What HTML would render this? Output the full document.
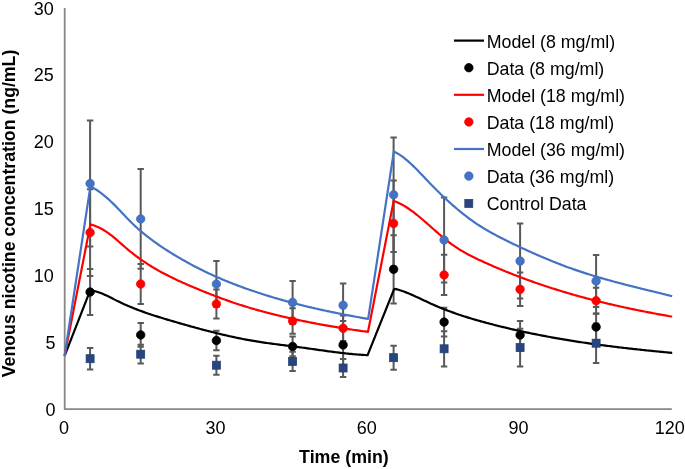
<!DOCTYPE html>
<html><head><meta charset="utf-8"><style>
html,body{margin:0;padding:0;background:#fff;}
svg{display:block;will-change:transform;}
text{font-family:"Liberation Sans",sans-serif;fill:#000;}
</style></head><body>
<svg width="685" height="469" viewBox="0 0 685 469">
<rect width="685" height="469" fill="#fff"/>
<g font-size="18"><text x="55.4" y="415.60" text-anchor="end">0</text><text x="55.4" y="348.76" text-anchor="end">5</text><text x="53.7" y="281.93" text-anchor="end">10</text><text x="53.7" y="215.09" text-anchor="end">15</text><text x="53.7" y="148.26" text-anchor="end">20</text><text x="53.7" y="81.42" text-anchor="end">25</text><text x="53.7" y="14.59" text-anchor="end">30</text><text x="64.1" y="434.3" text-anchor="middle">0</text><text x="215.4" y="434.3" text-anchor="middle">30</text><text x="366.8" y="434.3" text-anchor="middle">60</text><text x="518.4" y="434.3" text-anchor="middle">90</text><text x="669.7" y="434.3" text-anchor="middle">120</text></g>
<g stroke="#878787" stroke-width="1.8" fill="none">
<path d="M64.7,8V409.1H671.8"/>
</g>
<g stroke="#595959" stroke-width="2" fill="none">
<path d="M90.10,347.90V369.50M86.90,347.90H93.30M86.90,369.50H93.30"/>
<path d="M140.70,344.80V363.60M137.50,344.80H143.90M137.50,363.60H143.90"/>
<path d="M216.40,355.70V374.70M213.20,355.70H219.60M213.20,374.70H219.60"/>
<path d="M292.60,351.70V371.10M289.40,351.70H295.80M289.40,371.10H295.80"/>
<path d="M343.10,359.10V376.90M339.90,359.10H346.30M339.90,376.90H346.30"/>
<path d="M393.60,345.70V369.70M390.40,345.70H396.80M390.40,369.70H396.80"/>
<path d="M444.10,331.20V366.40M440.90,331.20H447.30M440.90,366.40H447.30"/>
<path d="M520.10,328.80V366.40M516.90,328.80H523.30M516.90,366.40H523.30"/>
<path d="M596.10,323.40V363.00M592.90,323.40H599.30M592.90,363.00H599.30"/>
<path d="M90.10,269.10V314.90M86.90,269.10H93.30M86.90,314.90H93.30"/>
<path d="M140.70,323.00V346.80M137.50,323.00H143.90M137.50,346.80H143.90"/>
<path d="M216.40,330.70V350.30M213.20,330.70H219.60M213.20,350.30H219.60"/>
<path d="M292.60,336.50V356.30M289.40,336.50H295.80M289.40,356.30H295.80"/>
<path d="M343.10,320.90V368.90M339.90,320.90H346.30M339.90,368.90H346.30"/>
<path d="M393.60,235.20V303.40M390.40,235.20H396.80M390.40,303.40H396.80"/>
<path d="M444.10,307.70V336.50M440.90,307.70H447.30M440.90,336.50H447.30"/>
<path d="M520.10,321.00V349.00M516.90,321.00H523.30M516.90,349.00H523.30"/>
<path d="M596.10,313.70V340.10M592.90,313.70H599.30M592.90,340.10H599.30"/>
<path d="M90.10,189.20V276.00M86.90,189.20H93.30M86.90,276.00H93.30"/>
<path d="M140.70,264.10V303.90M137.50,264.10H143.90M137.50,303.90H143.90"/>
<path d="M216.40,289.40V318.40M213.20,289.40H219.60M213.20,318.40H219.60"/>
<path d="M292.60,308.20V333.80M289.40,308.20H295.80M289.40,333.80H295.80"/>
<path d="M343.10,315.60V341.00M339.90,315.60H346.30M339.90,341.00H346.30"/>
<path d="M393.60,180.40V266.40M390.40,180.40H396.80M390.40,266.40H396.80"/>
<path d="M444.10,254.80V295.00M440.90,254.80H447.30M440.90,295.00H447.30"/>
<path d="M520.10,272.50V306.10M516.90,272.50H523.30M516.90,306.10H523.30"/>
<path d="M596.10,287.80V313.60M592.90,287.80H599.30M592.90,313.60H599.30"/>
<path d="M90.10,120.60V246.60M86.90,120.60H93.30M86.90,246.60H93.30"/>
<path d="M140.70,169.00V268.80M137.50,169.00H143.90M137.50,268.80H143.90"/>
<path d="M216.40,261.00V307.00M213.20,261.00H219.60M213.20,307.00H219.60"/>
<path d="M292.60,280.90V323.90M289.40,280.90H295.80M289.40,323.90H295.80"/>
<path d="M343.10,283.60V327.00M339.90,283.60H346.30M339.90,327.00H346.30"/>
<path d="M393.60,137.60V252.00M390.40,137.60H396.80M390.40,252.00H396.80"/>
<path d="M444.10,197.60V282.40M440.90,197.60H447.30M440.90,282.40H447.30"/>
<path d="M520.10,223.60V298.60M516.90,223.60H523.30M516.90,298.60H523.30"/>
<path d="M596.10,254.90V307.10M592.90,254.90H599.30M592.90,307.10H599.30"/>
</g>
<g fill="none" stroke-width="2.2" stroke-linejoin="miter">
<path d="M64.60,355.80 L90.10,290.70 L91.60,290.72 L93.10,290.91 L94.60,291.18 L96.10,291.53 L97.60,291.95 L99.10,292.44 L100.60,292.98 L102.10,293.57 L103.60,294.21 L105.10,294.89 L106.60,295.59 L108.10,296.32 L109.60,297.07 L111.10,297.83 L112.60,298.60 L114.10,299.36 L115.60,300.12 L117.10,300.87 L118.60,301.60 L120.10,302.32 L121.60,303.02 L123.10,303.71 L124.60,304.39 L126.10,305.05 L127.60,305.70 L129.10,306.34 L130.60,306.97 L132.10,307.58 L133.60,308.19 L135.10,308.78 L136.60,309.37 L138.10,309.94 L139.60,310.50 L141.10,311.06 L142.60,311.60 L144.10,312.14 L145.60,312.67 L147.10,313.19 L148.60,313.70 L150.10,314.21 L151.60,314.71 L153.10,315.20 L154.60,315.68 L156.10,316.17 L157.60,316.64 L159.10,317.11 L160.60,317.57 L162.10,318.04 L163.60,318.49 L165.10,318.94 L166.60,319.39 L168.10,319.84 L169.60,320.28 L171.10,320.72 L172.60,321.16 L174.10,321.60 L175.60,322.04 L177.10,322.47 L178.60,322.91 L180.10,323.34 L181.60,323.77 L183.10,324.20 L184.60,324.63 L186.10,325.05 L187.60,325.47 L189.10,325.90 L190.60,326.32 L192.10,326.73 L193.60,327.15 L195.10,327.56 L196.60,327.97 L198.10,328.38 L199.60,328.78 L201.10,329.19 L202.60,329.58 L204.10,329.98 L205.60,330.38 L207.10,330.77 L208.60,331.15 L210.10,331.54 L211.60,331.92 L213.10,332.30 L214.60,332.67 L216.10,333.04 L217.60,333.41 L219.10,333.77 L220.60,334.13 L222.10,334.49 L223.60,334.84 L225.10,335.19 L226.60,335.54 L228.10,335.87 L229.60,336.21 L231.10,336.54 L232.60,336.87 L234.10,337.19 L235.60,337.51 L237.10,337.82 L238.60,338.13 L240.10,338.43 L241.60,338.73 L243.10,339.03 L244.60,339.31 L246.10,339.60 L247.60,339.87 L249.10,340.15 L250.60,340.41 L252.10,340.68 L253.60,340.93 L255.10,341.18 L256.60,341.43 L258.10,341.67 L259.60,341.90 L261.10,342.13 L262.60,342.36 L264.10,342.58 L265.60,342.79 L267.10,343.01 L268.60,343.22 L270.10,343.43 L271.60,343.63 L273.10,343.83 L274.60,344.03 L276.10,344.23 L277.60,344.42 L279.10,344.62 L280.60,344.81 L282.10,345.00 L283.60,345.19 L285.10,345.38 L286.60,345.57 L288.10,345.76 L289.60,345.95 L291.10,346.14 L292.60,346.33 L294.10,346.52 L295.60,346.72 L297.10,346.91 L298.60,347.11 L300.10,347.31 L301.60,347.51 L303.10,347.72 L304.60,347.92 L306.10,348.13 L307.60,348.34 L309.10,348.55 L310.60,348.76 L312.10,348.97 L313.60,349.19 L315.10,349.40 L316.60,349.61 L318.10,349.82 L319.60,350.04 L321.10,350.25 L322.60,350.46 L324.10,350.67 L325.60,350.88 L327.10,351.08 L328.60,351.29 L330.10,351.49 L331.60,351.69 L333.10,351.89 L334.60,352.08 L336.10,352.27 L337.60,352.46 L339.10,352.64 L340.60,352.82 L342.10,353.00 L343.60,353.17 L345.10,353.34 L346.60,353.50 L348.10,353.66 L349.60,353.82 L351.10,353.96 L352.60,354.10 L354.10,354.24 L355.60,354.37 L357.10,354.49 L358.60,354.61 L360.10,354.72 L361.60,354.82 L363.10,354.92 L364.60,355.01 L366.10,355.08 L367.60,355.20 L394.00,289.40 L395.50,288.96 L397.00,289.35 L398.50,289.77 L400.00,290.23 L401.50,290.72 L403.00,291.25 L404.50,291.79 L406.00,292.37 L407.50,292.97 L409.00,293.58 L410.50,294.22 L412.00,294.87 L413.50,295.54 L415.00,296.22 L416.50,296.90 L418.00,297.60 L419.50,298.30 L421.00,299.00 L422.50,299.70 L424.00,300.41 L425.50,301.11 L427.00,301.82 L428.50,302.51 L430.00,303.20 L431.50,303.88 L433.00,304.56 L434.50,305.22 L436.00,305.87 L437.50,306.51 L439.00,307.14 L440.50,307.76 L442.00,308.36 L443.50,308.96 L445.00,309.55 L446.50,310.13 L448.00,310.71 L449.50,311.27 L451.00,311.82 L452.50,312.37 L454.00,312.90 L455.50,313.43 L457.00,313.95 L458.50,314.46 L460.00,314.97 L461.50,315.47 L463.00,315.96 L464.50,316.44 L466.00,316.92 L467.50,317.39 L469.00,317.85 L470.50,318.31 L472.00,318.76 L473.50,319.21 L475.00,319.65 L476.50,320.08 L478.00,320.51 L479.50,320.93 L481.00,321.35 L482.50,321.77 L484.00,322.18 L485.50,322.59 L487.00,322.99 L488.50,323.39 L490.00,323.78 L491.50,324.17 L493.00,324.56 L494.50,324.95 L496.00,325.33 L497.50,325.71 L499.00,326.08 L500.50,326.45 L502.00,326.82 L503.50,327.19 L505.00,327.55 L506.50,327.91 L508.00,328.27 L509.50,328.62 L511.00,328.97 L512.50,329.31 L514.00,329.66 L515.50,330.00 L517.00,330.34 L518.50,330.67 L520.00,331.00 L521.50,331.33 L523.00,331.65 L524.50,331.98 L526.00,332.30 L527.50,332.61 L529.00,332.93 L530.50,333.24 L532.00,333.55 L533.50,333.85 L535.00,334.15 L536.50,334.45 L538.00,334.75 L539.50,335.04 L541.00,335.34 L542.50,335.63 L544.00,335.91 L545.50,336.20 L547.00,336.48 L548.50,336.75 L550.00,337.03 L551.50,337.30 L553.00,337.57 L554.50,337.84 L556.00,338.11 L557.50,338.37 L559.00,338.63 L560.50,338.89 L562.00,339.15 L563.50,339.40 L565.00,339.65 L566.50,339.90 L568.00,340.15 L569.50,340.39 L571.00,340.64 L572.50,340.88 L574.00,341.11 L575.50,341.35 L577.00,341.58 L578.50,341.81 L580.00,342.04 L581.50,342.27 L583.00,342.49 L584.50,342.72 L586.00,342.94 L587.50,343.16 L589.00,343.37 L590.50,343.59 L592.00,343.80 L593.50,344.01 L595.00,344.22 L596.50,344.43 L598.00,344.63 L599.50,344.84 L601.00,345.04 L602.50,345.24 L604.00,345.43 L605.50,345.63 L607.00,345.82 L608.50,346.02 L610.00,346.21 L611.50,346.40 L613.00,346.58 L614.50,346.77 L616.00,346.95 L617.50,347.14 L619.00,347.32 L620.50,347.50 L622.00,347.67 L623.50,347.85 L625.00,348.02 L626.50,348.20 L628.00,348.37 L629.50,348.54 L631.00,348.71 L632.50,348.88 L634.00,349.04 L635.50,349.21 L637.00,349.37 L638.50,349.53 L640.00,349.69 L641.50,349.85 L643.00,350.01 L644.50,350.17 L646.00,350.32 L647.50,350.48 L649.00,350.63 L650.50,350.78 L652.00,350.94 L653.50,351.09 L655.00,351.24 L656.50,351.38 L658.00,351.53 L659.50,351.68 L661.00,351.82 L662.50,351.96 L664.00,352.11 L665.50,352.25 L667.00,352.39 L668.50,352.53 L670.00,352.67 L671.50,352.81 L672.20,352.70" stroke="#000"/>
<path d="M64.60,355.80 L90.40,224.40 L91.90,224.86 L93.40,225.31 L94.90,225.82 L96.40,226.40 L97.90,227.04 L99.40,227.74 L100.90,228.50 L102.40,229.33 L103.90,230.21 L105.40,231.15 L106.90,232.15 L108.40,233.20 L109.90,234.31 L111.40,235.46 L112.90,236.66 L114.40,237.89 L115.90,239.16 L117.40,240.45 L118.90,241.75 L120.40,243.06 L121.90,244.38 L123.40,245.70 L124.90,247.00 L126.40,248.29 L127.90,249.55 L129.40,250.80 L130.90,252.01 L132.40,253.20 L133.90,254.37 L135.40,255.52 L136.90,256.64 L138.40,257.74 L139.90,258.82 L141.40,259.87 L142.90,260.91 L144.40,261.93 L145.90,262.92 L147.40,263.90 L148.90,264.86 L150.40,265.80 L151.90,266.72 L153.40,267.63 L154.90,268.52 L156.40,269.39 L157.90,270.25 L159.40,271.09 L160.90,271.92 L162.40,272.73 L163.90,273.53 L165.40,274.32 L166.90,275.09 L168.40,275.85 L169.90,276.61 L171.40,277.35 L172.90,278.07 L174.40,278.79 L175.90,279.50 L177.40,280.20 L178.90,280.90 L180.40,281.58 L181.90,282.26 L183.40,282.93 L184.90,283.59 L186.40,284.24 L187.90,284.90 L189.40,285.54 L190.90,286.18 L192.40,286.82 L193.90,287.46 L195.40,288.09 L196.90,288.71 L198.40,289.34 L199.90,289.96 L201.40,290.57 L202.90,291.18 L204.40,291.79 L205.90,292.39 L207.40,292.99 L208.90,293.58 L210.40,294.17 L211.90,294.76 L213.40,295.34 L214.90,295.92 L216.40,296.49 L217.90,297.05 L219.40,297.61 L220.90,298.17 L222.40,298.72 L223.90,299.27 L225.40,299.81 L226.90,300.35 L228.40,300.88 L229.90,301.41 L231.40,301.93 L232.90,302.44 L234.40,302.95 L235.90,303.46 L237.40,303.95 L238.90,304.45 L240.40,304.93 L241.90,305.41 L243.40,305.89 L244.90,306.36 L246.40,306.82 L247.90,307.28 L249.40,307.73 L250.90,308.18 L252.40,308.62 L253.90,309.05 L255.40,309.48 L256.90,309.91 L258.40,310.33 L259.90,310.74 L261.40,311.15 L262.90,311.56 L264.40,311.96 L265.90,312.36 L267.40,312.75 L268.90,313.14 L270.40,313.52 L271.90,313.90 L273.40,314.28 L274.90,314.65 L276.40,315.02 L277.90,315.38 L279.40,315.74 L280.90,316.10 L282.40,316.46 L283.90,316.81 L285.40,317.15 L286.90,317.50 L288.40,317.84 L289.90,318.18 L291.40,318.51 L292.90,318.84 L294.40,319.17 L295.90,319.50 L297.40,319.82 L298.90,320.14 L300.40,320.46 L301.90,320.77 L303.40,321.08 L304.90,321.39 L306.40,321.69 L307.90,321.99 L309.40,322.29 L310.90,322.58 L312.40,322.88 L313.90,323.17 L315.40,323.45 L316.90,323.74 L318.40,324.02 L319.90,324.30 L321.40,324.57 L322.90,324.84 L324.40,325.11 L325.90,325.38 L327.40,325.65 L328.90,325.91 L330.40,326.17 L331.90,326.42 L333.40,326.68 L334.90,326.93 L336.40,327.18 L337.90,327.43 L339.40,327.67 L340.90,327.91 L342.40,328.15 L343.90,328.39 L345.40,328.62 L346.90,328.85 L348.40,329.08 L349.90,329.31 L351.40,329.53 L352.90,329.76 L354.40,329.98 L355.90,330.19 L357.40,330.41 L358.90,330.62 L360.40,330.83 L361.90,331.04 L363.40,331.25 L364.90,331.45 L366.40,331.65 L367.90,331.85 L368.00,331.70 L393.70,200.90 L395.20,201.46 L396.70,202.06 L398.20,202.71 L399.70,203.43 L401.20,204.19 L402.70,205.01 L404.20,205.88 L405.70,206.80 L407.20,207.76 L408.70,208.76 L410.20,209.80 L411.70,210.88 L413.20,211.99 L414.70,213.14 L416.20,214.31 L417.70,215.51 L419.20,216.74 L420.70,217.98 L422.20,219.25 L423.70,220.53 L425.20,221.83 L426.70,223.14 L428.20,224.46 L429.70,225.79 L431.20,227.12 L432.70,228.45 L434.20,229.78 L435.70,231.10 L437.20,232.42 L438.70,233.73 L440.20,235.02 L441.70,236.30 L443.20,237.56 L444.70,238.80 L446.20,240.02 L447.70,241.21 L449.20,242.37 L450.70,243.50 L452.20,244.60 L453.70,245.66 L455.20,246.68 L456.70,247.68 L458.20,248.65 L459.70,249.59 L461.20,250.51 L462.70,251.40 L464.20,252.26 L465.70,253.10 L467.20,253.93 L468.70,254.73 L470.20,255.51 L471.70,256.28 L473.20,257.04 L474.70,257.77 L476.20,258.50 L477.70,259.22 L479.20,259.92 L480.70,260.62 L482.20,261.31 L483.70,261.99 L485.20,262.67 L486.70,263.35 L488.20,264.02 L489.70,264.68 L491.20,265.34 L492.70,266.00 L494.20,266.65 L495.70,267.29 L497.20,267.93 L498.70,268.57 L500.20,269.20 L501.70,269.82 L503.20,270.44 L504.70,271.06 L506.20,271.67 L507.70,272.28 L509.20,272.88 L510.70,273.48 L512.20,274.07 L513.70,274.66 L515.20,275.24 L516.70,275.82 L518.20,276.40 L519.70,276.97 L521.20,277.53 L522.70,278.09 L524.20,278.65 L525.70,279.20 L527.20,279.75 L528.70,280.30 L530.20,280.84 L531.70,281.37 L533.20,281.90 L534.70,282.43 L536.20,282.95 L537.70,283.47 L539.20,283.99 L540.70,284.50 L542.20,285.01 L543.70,285.51 L545.20,286.01 L546.70,286.50 L548.20,286.99 L549.70,287.48 L551.20,287.96 L552.70,288.44 L554.20,288.92 L555.70,289.39 L557.20,289.86 L558.70,290.32 L560.20,290.78 L561.70,291.24 L563.20,291.69 L564.70,292.14 L566.20,292.59 L567.70,293.03 L569.20,293.47 L570.70,293.90 L572.20,294.33 L573.70,294.76 L575.20,295.19 L576.70,295.61 L578.20,296.03 L579.70,296.44 L581.20,296.85 L582.70,297.26 L584.20,297.67 L585.70,298.07 L587.20,298.47 L588.70,298.86 L590.20,299.25 L591.70,299.64 L593.20,300.03 L594.70,300.41 L596.20,300.79 L597.70,301.17 L599.20,301.54 L600.70,301.91 L602.20,302.28 L603.70,302.64 L605.20,303.00 L606.70,303.36 L608.20,303.72 L609.70,304.07 L611.20,304.42 L612.70,304.77 L614.20,305.12 L615.70,305.46 L617.20,305.80 L618.70,306.14 L620.20,306.47 L621.70,306.80 L623.20,307.13 L624.70,307.46 L626.20,307.78 L627.70,308.11 L629.20,308.43 L630.70,308.74 L632.20,309.06 L633.70,309.37 L635.20,309.68 L636.70,309.99 L638.20,310.29 L639.70,310.60 L641.20,310.90 L642.70,311.20 L644.20,311.49 L645.70,311.79 L647.20,312.08 L648.70,312.37 L650.20,312.66 L651.70,312.95 L653.20,313.23 L654.70,313.51 L656.20,313.79 L657.70,314.07 L659.20,314.35 L660.70,314.62 L662.20,314.89 L663.70,315.17 L665.20,315.44 L666.70,315.70 L668.20,315.97 L669.70,316.23 L671.20,316.50 L672.20,316.50" stroke="#FF0000"/>
<path d="M64.60,355.80 L90.40,186.40 L91.90,187.12 L93.40,187.94 L94.90,188.82 L96.40,189.76 L97.90,190.76 L99.40,191.81 L100.90,192.92 L102.40,194.08 L103.90,195.29 L105.40,196.54 L106.90,197.83 L108.40,199.17 L109.90,200.55 L111.40,201.96 L112.90,203.40 L114.40,204.88 L115.90,206.38 L117.40,207.91 L118.90,209.47 L120.40,211.05 L121.90,212.65 L123.40,214.25 L124.90,215.86 L126.40,217.45 L127.90,219.02 L129.40,220.56 L130.90,222.07 L132.40,223.54 L133.90,224.97 L135.40,226.37 L136.90,227.74 L138.40,229.08 L139.90,230.38 L141.40,231.66 L142.90,232.92 L144.40,234.15 L145.90,235.35 L147.40,236.53 L148.90,237.69 L150.40,238.83 L151.90,239.95 L153.40,241.05 L154.90,242.14 L156.40,243.21 L157.90,244.26 L159.40,245.30 L160.90,246.33 L162.40,247.34 L163.90,248.33 L165.40,249.32 L166.90,250.29 L168.40,251.25 L169.90,252.19 L171.40,253.13 L172.90,254.05 L174.40,254.96 L175.90,255.87 L177.40,256.76 L178.90,257.64 L180.40,258.52 L181.90,259.38 L183.40,260.23 L184.90,261.08 L186.40,261.91 L187.90,262.74 L189.40,263.56 L190.90,264.37 L192.40,265.16 L193.90,265.95 L195.40,266.74 L196.90,267.51 L198.40,268.27 L199.90,269.03 L201.40,269.77 L202.90,270.51 L204.40,271.24 L205.90,271.96 L207.40,272.68 L208.90,273.38 L210.40,274.08 L211.90,274.77 L213.40,275.45 L214.90,276.13 L216.40,276.80 L217.90,277.46 L219.40,278.11 L220.90,278.75 L222.40,279.39 L223.90,280.02 L225.40,280.65 L226.90,281.26 L228.40,281.88 L229.90,282.48 L231.40,283.08 L232.90,283.67 L234.40,284.25 L235.90,284.83 L237.40,285.40 L238.90,285.97 L240.40,286.53 L241.90,287.08 L243.40,287.63 L244.90,288.17 L246.40,288.71 L247.90,289.24 L249.40,289.76 L250.90,290.28 L252.40,290.80 L253.90,291.31 L255.40,291.81 L256.90,292.31 L258.40,292.80 L259.90,293.29 L261.40,293.78 L262.90,294.26 L264.40,294.73 L265.90,295.20 L267.40,295.67 L268.90,296.13 L270.40,296.59 L271.90,297.04 L273.40,297.49 L274.90,297.94 L276.40,298.38 L277.90,298.81 L279.40,299.24 L280.90,299.67 L282.40,300.09 L283.90,300.51 L285.40,300.93 L286.90,301.34 L288.40,301.75 L289.90,302.15 L291.40,302.55 L292.90,302.95 L294.40,303.34 L295.90,303.73 L297.40,304.11 L298.90,304.49 L300.40,304.87 L301.90,305.25 L303.40,305.62 L304.90,305.98 L306.40,306.35 L307.90,306.71 L309.40,307.07 L310.90,307.42 L312.40,307.77 L313.90,308.12 L315.40,308.46 L316.90,308.80 L318.40,309.14 L319.90,309.48 L321.40,309.81 L322.90,310.14 L324.40,310.47 L325.90,310.79 L327.40,311.11 L328.90,311.43 L330.40,311.74 L331.90,312.06 L333.40,312.37 L334.90,312.68 L336.40,312.98 L337.90,313.28 L339.40,313.58 L340.90,313.88 L342.40,314.18 L343.90,314.47 L345.40,314.76 L346.90,315.05 L348.40,315.34 L349.90,315.62 L351.40,315.91 L352.90,316.19 L354.40,316.47 L355.90,316.74 L357.40,317.02 L358.90,317.29 L360.40,317.56 L361.90,317.83 L363.40,318.10 L364.90,318.36 L366.40,318.63 L367.90,318.89 L368.20,318.70 L393.80,151.70 L395.30,152.17 L396.80,152.97 L398.30,153.85 L399.80,154.81 L401.30,155.83 L402.80,156.93 L404.30,158.08 L405.80,159.30 L407.30,160.57 L408.80,161.88 L410.30,163.25 L411.80,164.65 L413.30,166.09 L414.80,167.57 L416.30,169.07 L417.80,170.60 L419.30,172.15 L420.80,173.71 L422.30,175.28 L423.80,176.87 L425.30,178.45 L426.80,180.03 L428.30,181.61 L429.80,183.18 L431.30,184.73 L432.80,186.27 L434.30,187.80 L435.80,189.31 L437.30,190.80 L438.80,192.28 L440.30,193.74 L441.80,195.19 L443.30,196.62 L444.80,198.03 L446.30,199.43 L447.80,200.81 L449.30,202.17 L450.80,203.52 L452.30,204.85 L453.80,206.16 L455.30,207.45 L456.80,208.73 L458.30,209.98 L459.80,211.22 L461.30,212.44 L462.80,213.64 L464.30,214.82 L465.80,215.99 L467.30,217.13 L468.80,218.25 L470.30,219.35 L471.80,220.44 L473.30,221.50 L474.80,222.54 L476.30,223.56 L477.80,224.56 L479.30,225.54 L480.80,226.49 L482.30,227.43 L483.80,228.35 L485.30,229.25 L486.80,230.13 L488.30,231.00 L489.80,231.86 L491.30,232.70 L492.80,233.52 L494.30,234.33 L495.80,235.14 L497.30,235.93 L498.80,236.71 L500.30,237.48 L501.80,238.24 L503.30,239.00 L504.80,239.75 L506.30,240.49 L507.80,241.23 L509.30,241.97 L510.80,242.70 L512.30,243.43 L513.80,244.15 L515.30,244.87 L516.80,245.58 L518.30,246.29 L519.80,247.00 L521.30,247.70 L522.80,248.40 L524.30,249.09 L525.80,249.78 L527.30,250.47 L528.80,251.15 L530.30,251.82 L531.80,252.50 L533.30,253.16 L534.80,253.83 L536.30,254.49 L537.80,255.14 L539.30,255.79 L540.80,256.44 L542.30,257.08 L543.80,257.72 L545.30,258.35 L546.80,258.98 L548.30,259.60 L549.80,260.22 L551.30,260.83 L552.80,261.44 L554.30,262.04 L555.80,262.64 L557.30,263.23 L558.80,263.82 L560.30,264.40 L561.80,264.97 L563.30,265.54 L564.80,266.11 L566.30,266.66 L567.80,267.21 L569.30,267.76 L570.80,268.30 L572.30,268.83 L573.80,269.35 L575.30,269.87 L576.80,270.39 L578.30,270.90 L579.80,271.40 L581.30,271.90 L582.80,272.39 L584.30,272.88 L585.80,273.36 L587.30,273.84 L588.80,274.31 L590.30,274.78 L591.80,275.24 L593.30,275.70 L594.80,276.15 L596.30,276.60 L597.80,277.05 L599.30,277.49 L600.80,277.92 L602.30,278.36 L603.80,278.79 L605.30,279.21 L606.80,279.63 L608.30,280.05 L609.80,280.47 L611.30,280.88 L612.80,281.29 L614.30,281.69 L615.80,282.10 L617.30,282.50 L618.80,282.90 L620.30,283.29 L621.80,283.68 L623.30,284.07 L624.80,284.46 L626.30,284.85 L627.80,285.23 L629.30,285.61 L630.80,285.99 L632.30,286.37 L633.80,286.75 L635.30,287.12 L636.80,287.50 L638.30,287.87 L639.80,288.24 L641.30,288.61 L642.80,288.98 L644.30,289.35 L645.80,289.72 L647.30,290.08 L648.80,290.45 L650.30,290.82 L651.80,291.18 L653.30,291.55 L654.80,291.91 L656.30,292.28 L657.80,292.65 L659.30,293.01 L660.80,293.38 L662.30,293.75 L663.80,294.11 L665.30,294.48 L666.80,294.85 L668.30,295.22 L669.80,295.59 L671.30,295.97 L672.20,296.20" stroke="#4472C4"/>
</g>
<rect x="86.10" y="354.70" width="8.0" height="8.0" fill="#27467F" stroke="#213d72" stroke-width="0.75"/>
<rect x="136.70" y="350.20" width="8.0" height="8.0" fill="#27467F" stroke="#213d72" stroke-width="0.75"/>
<rect x="212.40" y="361.20" width="8.0" height="8.0" fill="#27467F" stroke="#213d72" stroke-width="0.75"/>
<rect x="288.60" y="357.40" width="8.0" height="8.0" fill="#27467F" stroke="#213d72" stroke-width="0.75"/>
<rect x="339.10" y="364.00" width="8.0" height="8.0" fill="#27467F" stroke="#213d72" stroke-width="0.75"/>
<rect x="389.60" y="353.70" width="8.0" height="8.0" fill="#27467F" stroke="#213d72" stroke-width="0.75"/>
<rect x="440.10" y="344.80" width="8.0" height="8.0" fill="#27467F" stroke="#213d72" stroke-width="0.75"/>
<rect x="516.10" y="343.60" width="8.0" height="8.0" fill="#27467F" stroke="#213d72" stroke-width="0.75"/>
<rect x="592.10" y="339.20" width="8.0" height="8.0" fill="#27467F" stroke="#213d72" stroke-width="0.75"/>
<circle cx="90.10" cy="292.00" r="4.25" fill="#000" stroke="#000" stroke-width="0.75"/>
<circle cx="140.70" cy="334.90" r="4.25" fill="#000" stroke="#000" stroke-width="0.75"/>
<circle cx="216.40" cy="340.50" r="4.25" fill="#000" stroke="#000" stroke-width="0.75"/>
<circle cx="292.60" cy="346.40" r="4.25" fill="#000" stroke="#000" stroke-width="0.75"/>
<circle cx="343.10" cy="344.90" r="4.25" fill="#000" stroke="#000" stroke-width="0.75"/>
<circle cx="393.60" cy="269.30" r="4.25" fill="#000" stroke="#000" stroke-width="0.75"/>
<circle cx="444.10" cy="322.10" r="4.25" fill="#000" stroke="#000" stroke-width="0.75"/>
<circle cx="520.10" cy="335.00" r="4.25" fill="#000" stroke="#000" stroke-width="0.75"/>
<circle cx="596.10" cy="326.90" r="4.25" fill="#000" stroke="#000" stroke-width="0.75"/>
<circle cx="90.10" cy="232.60" r="4.25" fill="#FF0000" stroke="#FF0000" stroke-width="0.75"/>
<circle cx="140.70" cy="284.00" r="4.25" fill="#FF0000" stroke="#FF0000" stroke-width="0.75"/>
<circle cx="216.40" cy="303.90" r="4.25" fill="#FF0000" stroke="#FF0000" stroke-width="0.75"/>
<circle cx="292.60" cy="321.00" r="4.25" fill="#FF0000" stroke="#FF0000" stroke-width="0.75"/>
<circle cx="343.10" cy="328.30" r="4.25" fill="#FF0000" stroke="#FF0000" stroke-width="0.75"/>
<circle cx="393.60" cy="223.40" r="4.25" fill="#FF0000" stroke="#FF0000" stroke-width="0.75"/>
<circle cx="444.10" cy="274.90" r="4.25" fill="#FF0000" stroke="#FF0000" stroke-width="0.75"/>
<circle cx="520.10" cy="289.30" r="4.25" fill="#FF0000" stroke="#FF0000" stroke-width="0.75"/>
<circle cx="596.10" cy="300.70" r="4.25" fill="#FF0000" stroke="#FF0000" stroke-width="0.75"/>
<circle cx="90.10" cy="183.60" r="4.25" fill="#4472C4" stroke="#3d69b8" stroke-width="0.75"/>
<circle cx="140.70" cy="218.90" r="4.25" fill="#4472C4" stroke="#3d69b8" stroke-width="0.75"/>
<circle cx="216.40" cy="284.00" r="4.25" fill="#4472C4" stroke="#3d69b8" stroke-width="0.75"/>
<circle cx="292.60" cy="302.40" r="4.25" fill="#4472C4" stroke="#3d69b8" stroke-width="0.75"/>
<circle cx="343.10" cy="305.30" r="4.25" fill="#4472C4" stroke="#3d69b8" stroke-width="0.75"/>
<circle cx="393.60" cy="194.80" r="4.25" fill="#4472C4" stroke="#3d69b8" stroke-width="0.75"/>
<circle cx="444.10" cy="240.00" r="4.25" fill="#4472C4" stroke="#3d69b8" stroke-width="0.75"/>
<circle cx="520.10" cy="261.10" r="4.25" fill="#4472C4" stroke="#3d69b8" stroke-width="0.75"/>
<circle cx="596.10" cy="281.00" r="4.25" fill="#4472C4" stroke="#3d69b8" stroke-width="0.75"/>
<line x1="454" y1="40.6" x2="484" y2="40.6" stroke="#000" stroke-width="2.2"/><circle cx="468.85" cy="67.7" r="4.25" fill="#000" stroke="#000" stroke-width="0.75"/><line x1="454" y1="94.8" x2="484" y2="94.8" stroke="#FF0000" stroke-width="2.2"/><circle cx="468.85" cy="121.9" r="4.25" fill="#FF0000" stroke="#FF0000" stroke-width="0.75"/><line x1="454" y1="149.0" x2="484" y2="149.0" stroke="#4472C4" stroke-width="2.2"/><circle cx="468.85" cy="176.1" r="4.25" fill="#4472C4" stroke="#3d69b8" stroke-width="0.75"/><rect x="464.8" y="199.39999999999998" width="8.0" height="8.0" fill="#27467F" stroke="#213d72" stroke-width="0.75"/>
<g font-size="17.8"><text x="486.7" y="47.80">Model (8 mg/ml)</text><text x="486.7" y="74.90">Data (8 mg/ml)</text><text x="486.7" y="102.00">Model (18 mg/ml)</text><text x="486.7" y="129.10">Data (18 mg/ml)</text><text x="486.7" y="156.20">Model (36 mg/ml)</text><text x="486.7" y="183.30">Data (36 mg/ml)</text><text x="486.7" y="210.40">Control Data</text></g>
<text font-size="17.8" font-weight="bold" x="343.9" y="462.8" text-anchor="middle">Time (min)</text>
<text font-size="17.72" font-weight="bold" transform="translate(15.3,213.45) rotate(-90)" text-anchor="middle">Venous nicotine concentration (ng/mL)</text>
</svg>
</body></html>
